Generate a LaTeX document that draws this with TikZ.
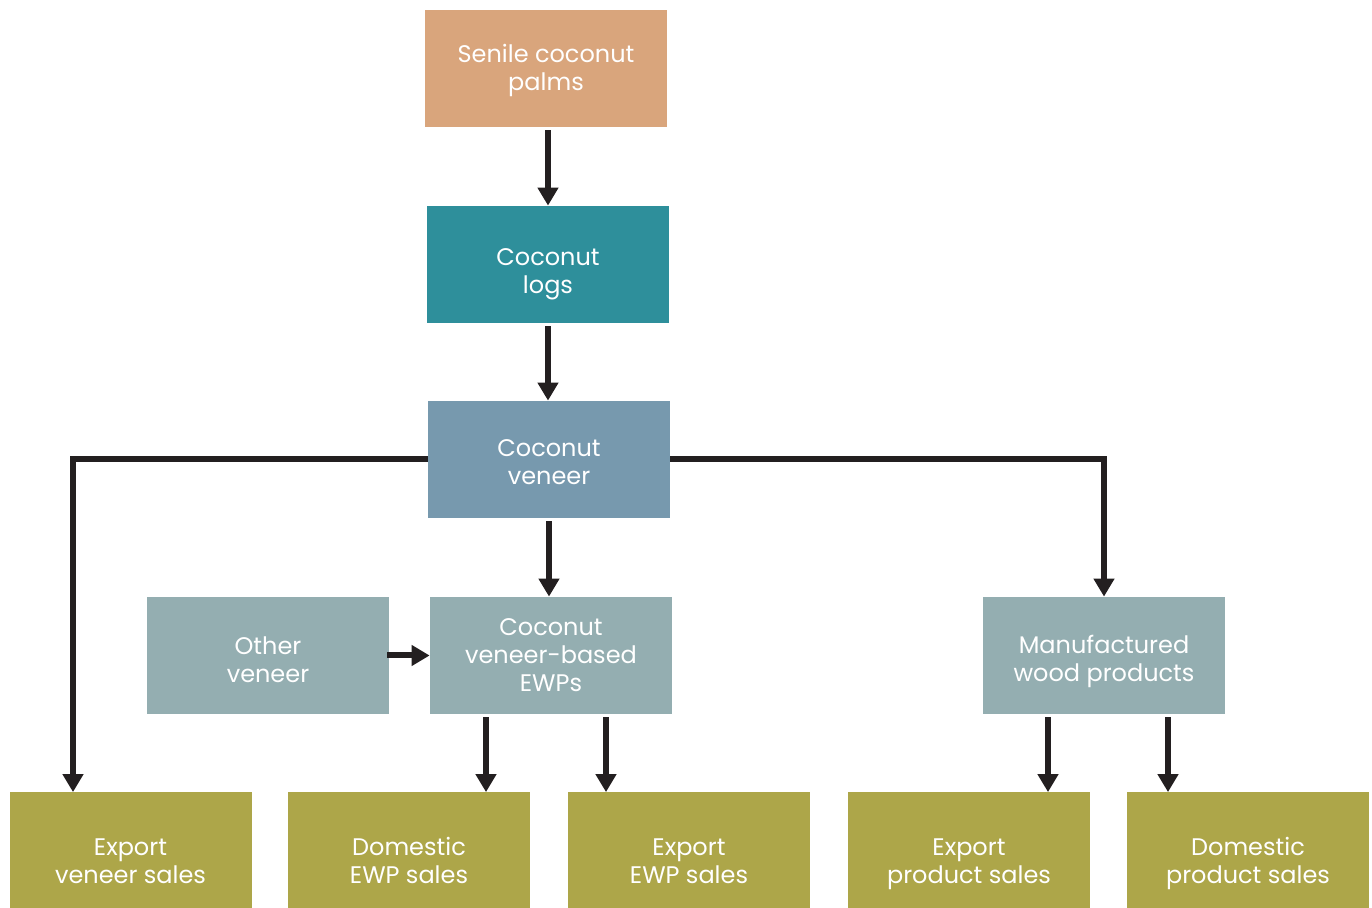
\documentclass[tikz,border=0pt]{standalone}
\usepackage{fontspec}
\setmainfont{Poppins}
\usetikzlibrary{arrows.meta}

\definecolor{palmc}{HTML}{D9A57C}
\definecolor{logc}{HTML}{2E8F9B}
\definecolor{veneerc}{HTML}{7799AE}
\definecolor{greyc}{HTML}{94AEB1}
\definecolor{salec}{HTML}{ADA649}
\definecolor{inkc}{HTML}{231F20}

\tikzset{box/.style={minimum width=121pt, minimum height=58.5pt, inner sep=0pt},
         lbl/.style={align=center, text=white, inner sep=0pt, font=\fontsize{12pt}{14pt}\selectfont},
         flow/.style={line width=3pt, draw=inkc, -{Triangle[width=10pt,length=9pt]}, shorten <=1.5pt}}

\begin{document}
\begin{tikzpicture}[x=0.5pt, y=-0.5pt]
  \useasboundingbox (0,0) rectangle (1372,908);
  % sources
  \node[box, fill=palmc,   label={[lbl, yshift=-1pt]center:{Senile coconut\\palms}}] (palms) at (546,68.5) {};
  \node[box, fill=logc,    label={[lbl, yshift=-5pt]center:{Coconut\\logs}}] (logs) at (548,264.5) {};
  \node[box, fill=veneerc, label={[lbl, yshift=-1.5pt]center:{Coconut\\veneer}}] (veneer) at (549,459.5) {};
  % products
  \node[box, fill=greyc, label={[lbl, yshift=-2pt]center:{Other\\veneer}}] (other) at (268,655.5) {};
  \node[box, fill=greyc, label={[lbl]center:{Coconut\\veneer-based\\EWPs}}] (ewp) at (551,655.5) {};
  \node[box, fill=greyc, label={[lbl, yshift=-3pt]center:{Manufactured\\wood products}}] (mwp) at (1104,655.5) {};
  % sales
  \node[box, fill=salec, label={[lbl, yshift=-5pt]center:{Export\\veneer sales}}] (expveneer) at (130.5,851) {};
  \node[box, fill=salec, label={[lbl, yshift=-4.5pt]center:{Domestic\\EWP sales}}] (domewp) at (409,851) {};
  \node[box, fill=salec, label={[lbl, yshift=-5pt]center:{Export\\EWP sales}}] (expewp) at (689,851) {};
  \node[box, fill=salec, label={[lbl, yshift=-6.5pt]center:{Export\\product sales}}] (expprod) at (969,851) {};
  \node[box, fill=salec, label={[lbl, yshift=-6pt]center:{Domestic\\product sales}}] (domprod) at (1248,851) {};

  \draw[flow] (palms.south -| logs.north) -- (logs.north);
  \draw[flow] (logs.south) -- (logs.south |- veneer.north);
  \draw[flow] (veneer.south) -- (veneer.south |- ewp.north);
  \draw[flow, shorten <=0pt] (veneer.west) -| ([xshift=-28.75pt]expveneer.north);
  \draw[flow, shorten <=0pt] (veneer.east) -| (mwp.north);
  \draw[flow, shorten <=-1pt] (other.east) -- (ewp.west);
  \draw[flow] ([xshift=-32.5pt]ewp.south) -- ([xshift=-32.5pt]ewp.south |- domewp.north);
  \draw[flow] ([xshift=27.5pt]ewp.south) -- ([xshift=27.5pt]ewp.south |- expewp.north);
  \draw[flow] ([xshift=-28pt]mwp.south) -- ([xshift=-28pt]mwp.south |- expprod.north);
  \draw[flow] ([xshift=32pt]mwp.south) -- ([xshift=32pt]mwp.south |- domprod.north);
\end{tikzpicture}
\end{document}
